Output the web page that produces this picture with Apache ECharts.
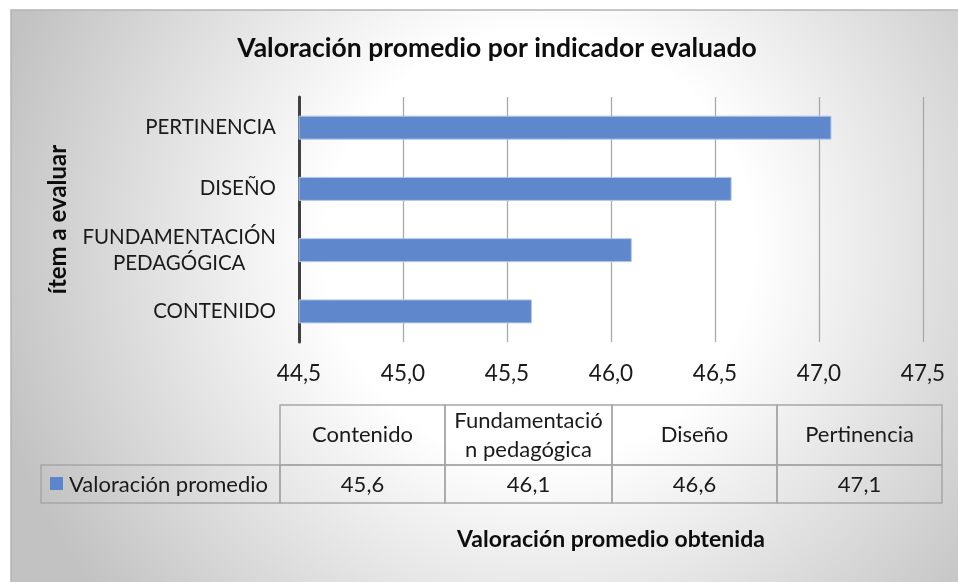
<!DOCTYPE html>
<html>
<head>
<meta charset="utf-8">
<script src="https://cdn.jsdelivr.net/npm/echarts@6/dist/echarts.min.js"></script>
<style>
  html, body { margin: 0; padding: 0; background: #fff; }
  #chart { width: 958px; height: 582px; }
</style>
</head>
<body>
<div id="chart"></div>
<script>
// datos del gráfico
let categorias = ['CONTENIDO', 'FUNDAMENTACIÓN\nPEDAGÓGICA', 'DISEÑO', 'PERTINENCIA'];
let valores = [45.62, 46.1, 46.58, 47.06];
let tablaCats = ['Contenido', 'Fundamentació\nn pedagógica', 'Diseño', 'Pertinencia'];
let serieNombre = 'Valoración promedio';

let fuente = 'Lato, "Open Sans", sans-serif';
let coma = v => v.toFixed(1).replace('.', ',');

let chart = echarts.init(document.getElementById('chart'));

// tabla de datos dibujada con graphic
let tabla = [];
let colX = [280, 445, 612, 777, 942];
let filaY = [405, 465, 503];
let borde = { stroke: '#a6a6a6', lineWidth: 1.5, fill: 'transparent' };
for (let i = 0; i < 4; i++) {
  let w = colX[i + 1] - colX[i];
  tabla.push({ type: 'rect', shape: { x: colX[i], y: filaY[0], width: w, height: filaY[1] - filaY[0] }, style: borde, z: 10 });
  tabla.push({ type: 'rect', shape: { x: colX[i], y: filaY[1], width: w, height: filaY[2] - filaY[1] }, style: borde, z: 10 });
  tabla.push({
    type: 'text', x: colX[i] + w / 2, y: (filaY[0] + filaY[1]) / 2, z: 11,
    style: { text: tablaCats[i], font: '22px ' + fuente, fill: '#1a1a1a', align: 'center', verticalAlign: 'middle', lineHeight: 29 }
  });
  tabla.push({
    type: 'text', x: colX[i] + w / 2, y: (filaY[1] + filaY[2]) / 2 + 1, z: 11,
    style: { text: coma(valores[i]), font: '22px ' + fuente, fill: '#1a1a1a', align: 'center', verticalAlign: 'middle' }
  });
}
tabla.push({ type: 'rect', shape: { x: 41, y: filaY[1], width: colX[0] - 41, height: filaY[2] - filaY[1] }, style: borde, z: 10 });
tabla.push({ type: 'rect', shape: { x: 50, y: 477, width: 13, height: 13 }, style: { fill: '#5b85cc' }, z: 11 });
tabla.push({
  type: 'text', x: 69, y: (filaY[1] + filaY[2]) / 2 + 1, z: 11,
  style: { text: serieNombre, font: '22px ' + fuente, fill: '#1a1a1a', align: 'left', verticalAlign: 'middle' }
});

let option = {
  backgroundColor: '#fff',
  title: {
    text: 'Valoración promedio por indicador evaluado',
    left: 492, top: 30, textAlign: 'center',
    textStyle: { fontFamily: fuente, fontSize: 26.5, fontWeight: 'bold', color: '#0d0d0d' }
  },
  graphic: [
    {
      type: 'rect', z: -10, silent: true,
      shape: { x: 11, y: 10, width: 960, height: 590 },
      style: {
        stroke: '#b4b4b4', lineWidth: 1.5,
        fill: {
          type: 'radial', x: 0.55, y: 0.4, r: 0.95,
          colorStops: [
            { offset: 0, color: '#ffffff' },
            { offset: 0.38, color: '#ffffff' },
            { offset: 1, color: '#c2c2c2' }
          ]
        }
      }
    }
  ].concat(tabla),
  grid: { left: 299, right: 35, top: 97, bottom: 240, containLabel: false },
  xAxis: {
    type: 'value', min: 44.5, max: 47.5, interval: 0.5,
    name: 'Valoración promedio obtenida', nameLocation: 'middle', nameGap: 186,
    nameTextStyle: { fontFamily: fuente, fontSize: 23, fontWeight: 'bold', color: '#0d0d0d' },
    axisLine: { show: false }, axisTick: { show: false },
    splitLine: { show: true, lineStyle: { color: '#a9a9a9', width: 1.3 } },
    axisLabel: { formatter: coma, fontFamily: fuente, fontSize: 22.5, color: '#1a1a1a', margin: 20 }
  },
  yAxis: {
    type: 'category', data: categorias,
    name: 'ítem a evaluar', nameLocation: 'middle', nameGap: 229, nameRotate: 90,
    nameTextStyle: { fontFamily: fuente, fontSize: 24, fontWeight: 'bold', color: '#0d0d0d' },
    axisLine: { show: true, lineStyle: { color: '#404040', width: 3 } },
    axisTick: { show: false },
    axisLabel: {
      margin: 23, color: '#1a1a1a',
      formatter: v => v.split('\n').map(s => '{c|' + s + '}').join('\n'),
      rich: { c: { align: 'center', fontFamily: fuente, fontSize: 20.5, lineHeight: 26, color: '#1a1a1a' } }
    }
  },
  series: [{
    name: serieNombre, type: 'bar', data: valores, barWidth: 24,
    itemStyle: { color: '#5f87cb', borderColor: '#b3c8ea', borderWidth: 1 }
  }]
};

chart.setOption(option);
</script>
</body>
</html>
